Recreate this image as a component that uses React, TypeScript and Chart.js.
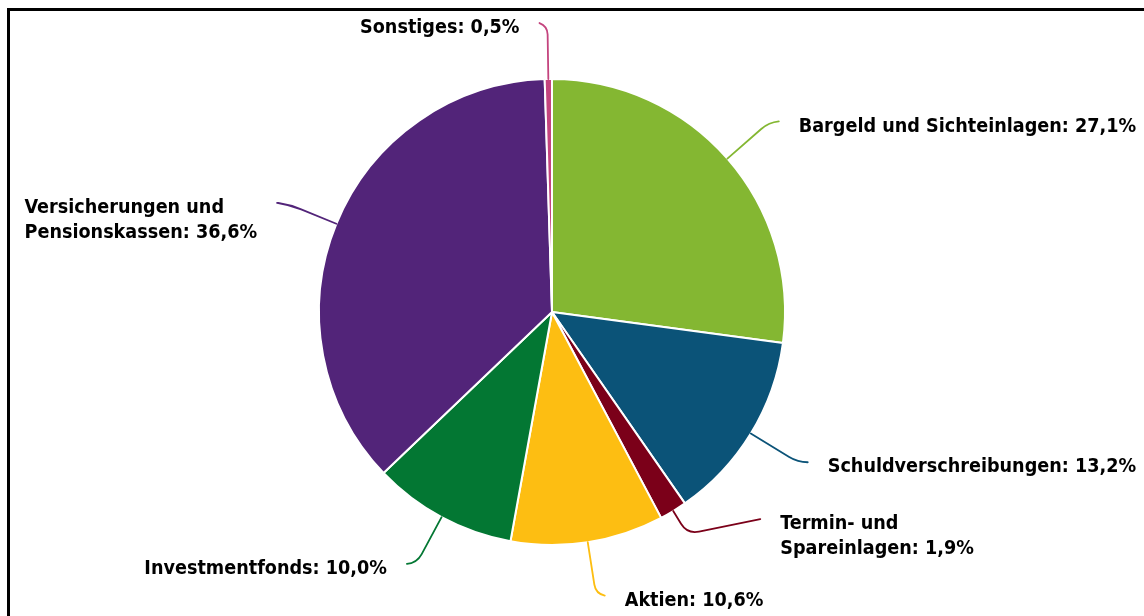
import { useEffect, useRef } from 'react';
import { Chart, registerables } from 'chart.js';

Chart.register(...registerables);

// ---- data ----
const categories = [
  'Bargeld und Sichteinlagen',
  'Schuldverschreibungen',
  'Termin- und Spareinlagen',
  'Aktien',
  'Investmentfonds',
  'Versicherungen und Pensionskassen',
  'Sonstiges',
];
const shares = [27.1, 13.2, 1.9, 10.6, 10.0, 36.6, 0.5];
const colors = ['#84b732', '#0b5378', '#7b0019', '#fdbe12', '#037733', '#522479', '#c4447e'];

// ---- label / connector layout (radial length, horizontal run, vertical shift, wrap) ----
const leaderLen = [55, 55, 27, 52, 52, 50, 53];
const leaderDx = [10, 10, 73, 9, -10, -13, -8];
const leaderDy = [-1, 0, -15, 2, 1, -2, -3];
const wrapLabel = [false, false, true, false, false, true, false];

const FONT = "bold 19.6px 'DejaVu Sans Condensed', 'DejaVu Sans'";
const LINE_H = 25;
const GAP = 20;

function fmt(v: number) {
  return v.toFixed(1).replace('.', ',') + '%';
}

function labelLines(i: number): string[] {
  const text = categories[i] + ': ' + fmt(shares[i]);
  if (!wrapLabel[i]) return [text];
  const idx = text.indexOf(' und ');
  if (idx < 0) return [text];
  return [text.slice(0, idx + 4), text.slice(idx + 5)];
}

const labelPlugin = {
  id: 'pieLabels',
  afterDatasetsDraw(chart: any) {
    const ctx: CanvasRenderingContext2D = chart.ctx;
    const meta = chart.getDatasetMeta(0);
    ctx.save();
    meta.data.forEach((arc: any, i: number) => {
      const p = arc.getProps(['x', 'y', 'startAngle', 'endAngle', 'outerRadius'], true);
      const mid = (p.startAngle + p.endAngle) / 2;
      const c = Math.cos(mid);
      const s = Math.sin(mid);
      const r = p.outerRadius;
      const ex = p.x + c * r;
      const ey = p.y + s * r;
      const bx = p.x + c * (r + leaderLen[i]);
      const by = p.y + s * (r + leaderLen[i]);
      const tx = bx + leaderDx[i];
      const ty = by + leaderDy[i];

      const l1 = Math.hypot(bx - ex, by - ey);
      const l2 = Math.hypot(tx - bx, ty - by);
      const k = Math.min(12, l1 * 0.5, l2);
      const ax = bx - ((bx - ex) / l1) * k;
      const ay = by - ((by - ey) / l1) * k;
      const cx2 = bx + ((tx - bx) / l2) * k;
      const cy2 = by + ((ty - by) / l2) * k;

      ctx.beginPath();
      ctx.moveTo(ex, ey);
      ctx.lineTo(ax, ay);
      ctx.quadraticCurveTo(bx, by, cx2, cy2);
      ctx.lineTo(tx, ty);
      ctx.strokeStyle = colors[i];
      ctx.lineWidth = 1.8;
      ctx.lineCap = 'round';
      ctx.stroke();

      ctx.font = FONT;
      ctx.fillStyle = '#000';
      ctx.textBaseline = 'middle';
      ctx.textAlign = 'left';
      const lines = labelLines(i);
      const w = Math.max(...lines.map((t) => ctx.measureText(t).width));
      const left = leaderDx[i] >= 0 ? tx + GAP : tx - GAP - w;
      lines.forEach((t, j) => {
        ctx.fillText(t, left, ty + 5 + j * LINE_H);
      });
    });
    ctx.restore();
  },
};

export default function App() {
  const ref = useRef<HTMLCanvasElement | null>(null);

  useEffect(() => {
    if (!ref.current) return;
    const chart = new Chart(ref.current, {
      type: 'pie',
      data: {
        labels: categories,
        datasets: [
          {
            data: shares,
            backgroundColor: colors,
            borderColor: '#ffffff',
            borderWidth: 2,
          },
        ],
      },
      options: {
        responsive: false,
        animation: false,
        layout: { padding: { left: 318, right: 358, top: 78, bottom: 70 } },
        plugins: {
          legend: { display: false },
          tooltip: { enabled: false },
        },
      },
      plugins: [labelPlugin],
    });
    return () => chart.destroy();
  }, []);

  return (
    <div style={{ position: 'fixed', left: 0, top: 0, width: 1144, height: 616, background: '#fff', overflow: 'hidden' }}>
      <div
        style={{
          position: 'absolute',
          left: 7,
          top: 8,
          width: 1200,
          height: 700,
          borderTop: '3px solid #000',
          borderLeft: '3px solid #000',
        }}
      />
      <canvas
        ref={ref}
        width={1144}
        height={616}
        style={{ position: 'absolute', left: 0, top: 0, width: 1144, height: 616 }}
      />
    </div>
  );
}
